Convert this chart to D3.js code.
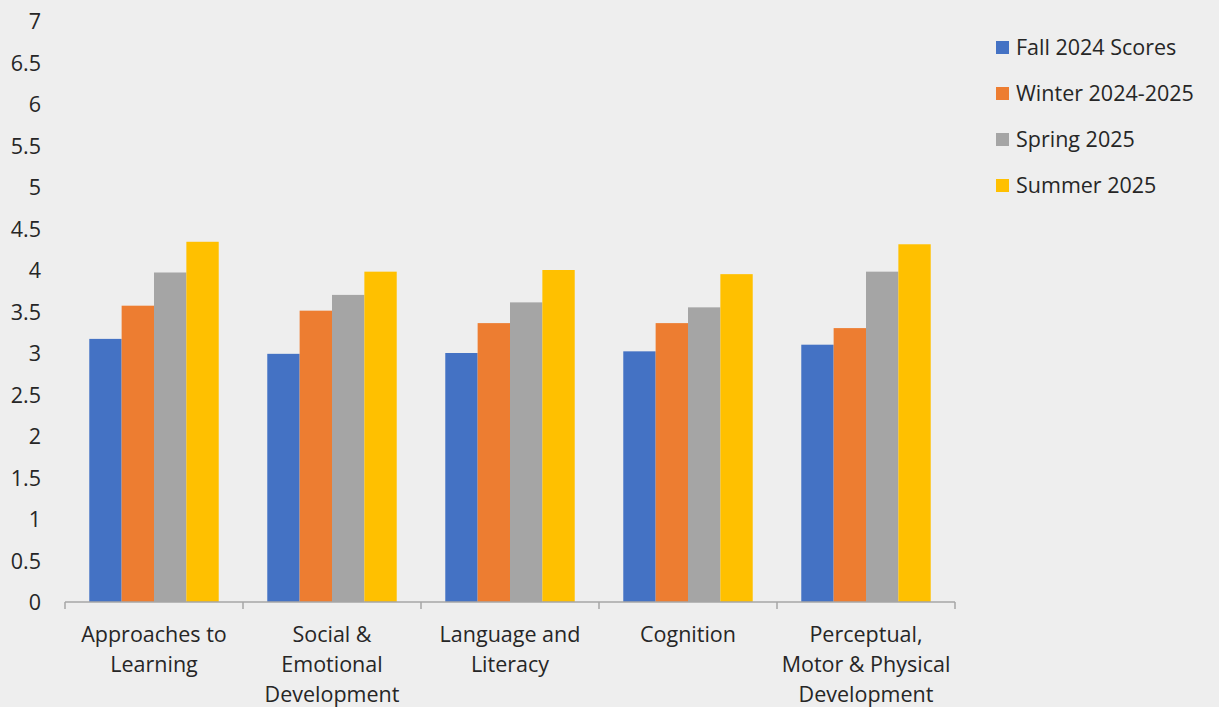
<!DOCTYPE html>
<html>
<head>
<meta charset="utf-8">
<script src="https://cdn.jsdelivr.net/npm/d3@7"></script>
<style>
	body { margin: 0; background: #eeeeee; }
	.canvas text { font-family: 'Open Sans', sans-serif; fill: #262626; }
</style>
</head>
<body>
<div class="canvas"></div>
<script>
// data
const categories = [
	['Approaches to', 'Learning'],
	['Social &', 'Emotional', 'Development'],
	['Language and', 'Literacy'],
	['Cognition'],
	['Perceptual,', 'Motor & Physical', 'Development']
];
const seriesNames = ['Fall 2024 Scores', 'Winter 2024-2025', 'Spring 2025', 'Summer 2025'];
const fall = [3.17, 2.99, 3.00, 3.02, 3.10];
const winter = [3.57, 3.51, 3.36, 3.36, 3.30];
const spring = [3.97, 3.70, 3.61, 3.55, 3.98];
const summer = [4.34, 3.98, 4.00, 3.95, 4.31];
const yTicks = [0, 0.5, 1, 1.5, 2, 2.5, 3, 3.5, 4, 4.5, 5, 5.5, 6, 6.5, 7];
const colors = ['#4472C4', '#ED7D31', '#A5A5A5', '#FFC000'];

const series = [fall, winter, spring, summer];
const catKeys = categories.map(c => c.join(' '));
const fontSize = 21.5;

const svg = d3.select('.canvas')
	.append('svg')
	.attr('width', 1219)
	.attr('height', 707);

const margin = { top: 21, left: 65 };
const graphWidth = 890;
const graphHeight = 581;

const graph = svg.append('g')
	.attr('transform', `translate(${margin.left},${margin.top})`);

// scales
const y = d3.scaleLinear()
	.domain([0, 7])
	.range([graphHeight, 0]);

const x = d3.scaleBand()
	.domain(catKeys)
	.range([0, graphWidth])
	.paddingInner(0)
	.paddingOuter(0);

// bars take 4 of 5.5 slots, gap of 150%
const barW = x.bandwidth() / 5.5;
const x1 = d3.scaleBand()
	.domain(d3.range(series.length))
	.range([barW * 0.75, barW * 4.75]);

// y axis (labels only)
const yAxis = d3.axisLeft(y)
	.tickValues(yTicks)
	.tickSize(0)
	.tickPadding(0)
	.tickFormat(d => d3.format('')(d));

const yAxisGroup = graph.append('g')
	.attr('transform', 'translate(-24,0)')
	.call(yAxis);
yAxisGroup.select('.domain').remove();
yAxisGroup.selectAll('text')
	.attr('font-size', fontSize)
	.attr('dy', '0.35em')
	.style('font-family', "'Open Sans', sans-serif")
	.attr('fill', '#262626');

// bars
const groups = graph.selectAll('g.cat')
	.data(catKeys)
	.enter()
	.append('g')
	.attr('class', 'cat')
	.attr('transform', d => `translate(${x(d)},0)`);

groups.selectAll('rect')
	.data((d, i) => series.map((s, j) => ({ j, v: s[i] })))
	.enter()
	.append('rect')
	.attr('x', d => x1(d.j))
	.attr('width', x1.bandwidth())
	.attr('y', d => y(d.v))
	.attr('height', d => graphHeight - y(d.v))
	.attr('fill', d => colors[d.j]);

// x axis
const xAxisGroup = graph.append('g')
	.attr('transform', `translate(0,${graphHeight})`);

xAxisGroup.append('line')
	.attr('x1', 0)
	.attr('x2', graphWidth)
	.attr('stroke', '#a6a6a6')
	.attr('stroke-width', 1.5);

const boundaries = catKeys.map(d => x(d)).concat([graphWidth]);
xAxisGroup.selectAll('line.tick')
	.data(boundaries)
	.enter()
	.append('line')
	.attr('class', 'tick')
	.attr('x1', d => d)
	.attr('x2', d => d)
	.attr('y1', 0)
	.attr('y2', 7)
	.attr('stroke', '#a6a6a6')
	.attr('stroke-width', 1.5);

const labels = xAxisGroup.selectAll('text.cat')
	.data(categories)
	.enter()
	.append('text')
	.attr('class', 'cat')
	.attr('text-anchor', 'middle')
	.attr('font-size', fontSize)
	.attr('x', (d, i) => x(catKeys[i]) + x.bandwidth() / 2)
	.attr('y', 40);

labels.selectAll('tspan')
	.data(d => d)
	.enter()
	.append('tspan')
	.attr('x', function () { return this.parentNode.getAttribute('x'); })
	.attr('dy', (d, i) => i === 0 ? 0 : 30)
	.text(d => d);

// legend
const legend = svg.append('g')
	.attr('transform', 'translate(996,47)');

const items = legend.selectAll('g')
	.data(seriesNames)
	.enter()
	.append('g')
	.attr('transform', (d, i) => `translate(0,${i * 46})`);

items.append('rect')
	.attr('x', 0)
	.attr('y', -6)
	.attr('width', 13)
	.attr('height', 13)
	.attr('fill', (d, i) => colors[i]);

items.append('text')
	.attr('x', 20)
	.attr('dy', '0.35em')
	.attr('font-size', fontSize)
	.text(d => d);
</script>
</body>
</html>
